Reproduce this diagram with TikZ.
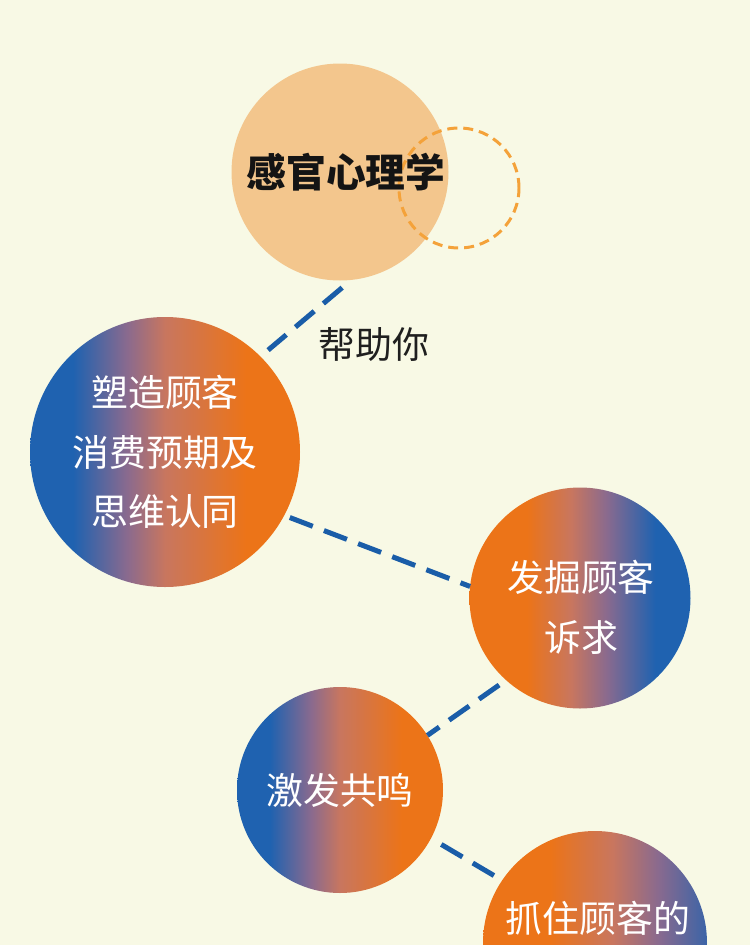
\documentclass[tikz,border=0pt]{standalone}
\usepackage{fontspec}
\newfontfamily\cjk{Noto Sans CJK SC}
\usepackage{xcolor}

\definecolor{bgcream}{HTML}{F8F9E5}
\definecolor{cpeach}{HTML}{F3C68D}
\definecolor{cring}{HTML}{F4A23A}
\definecolor{cblue}{HTML}{1F62B0}
\definecolor{cmauve}{HTML}{8A6A8E}
\definecolor{csalmon}{HTML}{C8765F}
\definecolor{corange}{HTML}{EC7418}
\definecolor{clink}{HTML}{1A5DA8}

\pgfdeclarehorizontalshading{blueorange}{100bp}{color(0bp)=(cblue); color(33bp)=(cblue);
  color(43bp)=(cmauve); color(50bp)=(csalmon); color(65bp)=(corange); color(100bp)=(corange)}
\pgfdeclarehorizontalshading{orangeblue}{100bp}{color(0bp)=(corange); color(38bp)=(corange);
  color(48bp)=(csalmon); color(56bp)=(cmauve); color(67bp)=(cblue); color(100bp)=(cblue)}
\pgfdeclarehorizontalshading{orangebluelate}{100bp}{color(0bp)=(corange); color(40bp)=(corange);
  color(54bp)=(csalmon); color(64bp)=(cmauve); color(79bp)=(cblue); color(100bp)=(cblue)}

\begin{document}
\begin{tikzpicture}[
    bubble/.style={circle, inner sep=0pt, outer sep=0pt, text=white, align=center,
      font=\cjk\fontsize{21}{34}\selectfont},
    link/.style={draw=clink, line width=2.85pt, dash pattern=on 14pt off 6.8pt}
  ]
  % --- fondo (750 x 945 px, 1 px = 0.02 cm) ---
  \useasboundingbox (0,0) rectangle (15,-18.9);
  \clip (0,0) rectangle (15,-18.9);
  \fill[bgcream] (0,0) rectangle (15,-18.9);

  % --- cerchio in alto ---
  \node[circle, fill=cpeach, minimum size=4.34cm, inner sep=0pt, outer sep=0pt] (sense) at (6.8,-3.44) {};
  \node[circle, draw=cring, line width=1.7pt, dash pattern=on 5.7pt off 3.4pt,
    minimum size=2.4cm, inner sep=0pt] (ring) at (9.18,-3.76) {};
  \node[font=\cjk\bfseries\fontsize{22.6}{26}\selectfont, text=black!92] (sensetext) at (6.92,-3.44) {感官心理学};

  % --- cerchi sfumati ---
  \node[bubble, shading=blueorange, minimum size=5.4cm] (shape) at (3.3,-9.04)
    {塑造顾客\\消费预期及\\思维认同};
  \node[bubble, shading=orangeblue, minimum size=4.42cm] (dig) at (11.6,-11.96) {};
  \node[bubble] (digtext) at (11.62,-12.14) {发掘顾客\\诉求};
  \node[bubble, shading=blueorange, minimum size=4.12cm] (echo) at (6.8,-15.8) {激发共鸣};
  \node[bubble, shading=orangebluelate, minimum size=4.48cm] (grab) at (11.9,-18.86) {};
  \node[bubble] (grabtext) at (11.96,-18.36) {抓住顾客的};

  % --- collegamenti tratteggiati ---
  \draw[link, shorten <=0.24cm, shorten >=0.2cm] (sense.-84) -- (shape.45);
  \draw[link, shorten <=0.12cm] (shape.-28) -- (dig.174);
  \draw[link, shorten <=0.17cm] (dig.228) -- (echo.32);
  \draw[link, shorten <=0.24cm, shorten >=0.18cm] (echo.-28) -- (grab.146);

  \node[font=\cjk\fontsize{21}{26}\selectfont, text=black!88] (help) at (7.48,-6.9) {帮助你};
\end{tikzpicture}
\end{document}
